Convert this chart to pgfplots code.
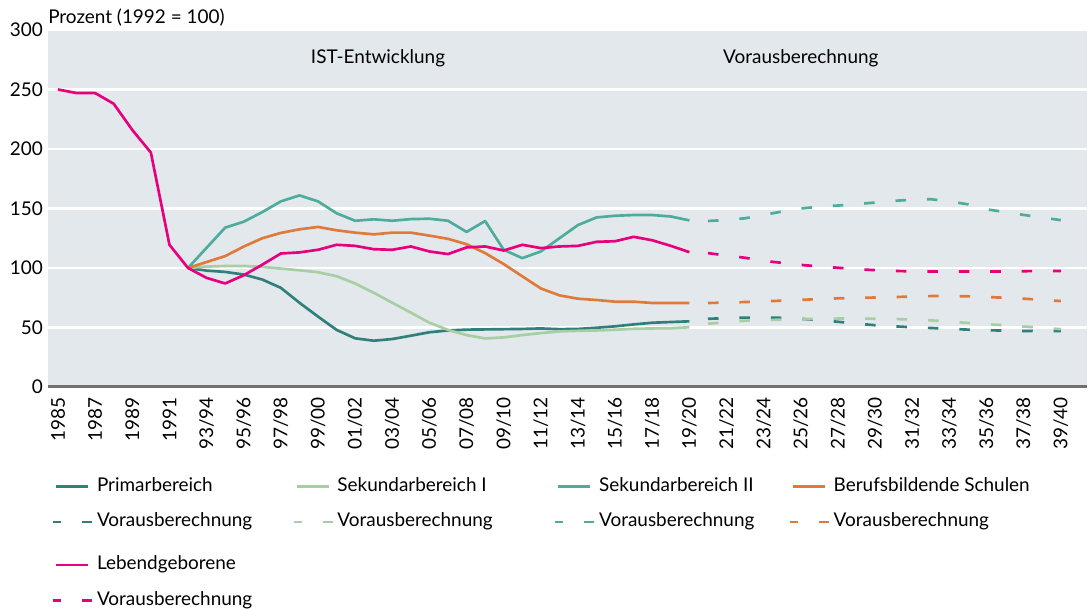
\documentclass[border=0pt]{standalone}
\usepackage{pgfplots}
\pgfplotsset{compat=1.18}
\usepackage{fontspec}
\setmainfont{Lato}
\definecolor{cprim}{RGB}{47,128,122}
\definecolor{csek1}{RGB}{168,206,164}
\definecolor{csek2}{RGB}{77,172,155}
\definecolor{cbbs}{RGB}{224,122,58}
\definecolor{cleb}{RGB}{230,0,126}
\definecolor{cbg}{RGB}{227,232,236}
\definecolor{caxis}{RGB}{112,112,112}
\pgfplotsset{
  solidleg/.style={legend image code/.code={\draw[##1,solid,line width=2pt] (2.25pt,0pt) -- (26.25pt,0pt); \path (0pt,0pt) (29.25pt,0pt);}},
  dashleg/.style={legend image code/.code={\draw[##1,line width=2pt,dash pattern=on 6pt off 15.75pt on 7.5pt off 10pt] (0pt,0pt) -- (29.25pt,0pt);}},
  proj/.style={dash pattern=on 7.9pt off 15.7pt},
}
\newcommand{\LE}[2]{\makebox[#1][l]{\rule[-3pt]{0pt}{13pt}#2}}

\pgfplotstableread{
x prim sek1 sek2 bbs
7 100 100 100 100
8 97.8 101.2 117 105
9 96.7 101.7 133.9 110
10 94.5 101.7 138.9 118
11 90.3 100.9 147 125
12 83.3 99.5 156 129.5
13 70.8 98.1 161 132.5
14 59.2 96.4 156 134.5
15 48 93.1 146 131.7
16 40.9 87 139.7 129.7
17 38.9 79.2 140.9 128.3
18 40.3 70.8 139.7 129.7
19 43.1 62.5 141.1 129.7
20 46 54 141.4 127.2
21 47.5 48 139.7 124.5
22 48.2 43.6 130.3 120
23 48.4 40.8 139.5 112.5
24 48.6 41.7 115.3 103.3
25 48.8 43.6 108.3 93
26 49.2 45.3 113.9 82.8
27 48.6 46.7 125 77
28 48.8 47.2 136.1 74.2
29 49.8 47.5 142.5 73.1
30 51 48.1 143.9 71.7
31 52.6 48.9 144.5 71.7
32 54 49.2 144.5 70.6
33 54.6 49.4 143.3 70.6
34 55.2 50.2 140 70.6
}\istdata

\pgfplotstableread{
x leb
0 250
1 247
2 247
3 238
4 216
5 197
6 119.5
7 100
8 91.7
9 87
10 93.9
11 102.8
12 112.2
13 113.1
14 115.3
15 119.5
16 118.6
17 115.8
18 115.3
19 118.1
20 113.9
21 111.7
22 117.3
23 118.1
24 114.7
25 119.5
26 116.7
27 118.1
28 118.6
29 122
30 122.5
31 126.2
32 123.3
33 118.6
34 113.3
}\lebdata

\pgfplotstableread{
x prim sek1 sek2 bbs leb
35 57.3 53.2 139.5 70.6 112.5
36 57.9 54.5 140.3 70.9 110.5
37 58.3 55.7 141.8 71.4 108.6
38 58.3 56.2 144.6 71.9 106
39 58.1 56.6 147.5 72.6 104.3
40 57.3 57.0 150 73.2 102.6
41 56.2 57.2 151.5 73.9 101.3
42 54.8 57.5 152.5 74.5 100.2
43 53.3 57.5 153.7 74.8 99
44 51.9 57.4 155 75.2 98.2
45 51 57.2 156.4 75.6 97.5
46 50.2 56.6 157.4 76 97.2
47 49.6 56 157.8 76.4 97
48 48.9 55 156 76.4 97
49 48.2 53.8 153.5 76.2 97
50 47.7 52.7 149.3 75.6 97
51 47.4 51.9 147 75 97
52 47.1 50.8 144.6 74.2 97.3
53 47 49.8 142.4 73.3 97.5
54 47 48.6 140.2 72.2 97.5
}\projdata

\begin{document}
\fontsize{14.2pt}{17pt}\selectfont
\begin{tikzpicture}
\useasboundingbox (-36pt,-166.5pt) rectangle (782.25pt,290.25pt);
\begin{axis}[
  at={(0,0)}, anchor=south west,
  scale only axis, width=779.25pt, height=267.75pt,
  xmin=-0.54, xmax=55.41, ymin=0, ymax=300,
  axis line style={draw=none},
  axis background/.style={fill=cbg},
  ytick={0,50,...,300},
  ymajorgrids, grid style={white, line width=1.8pt},
  major tick length=0pt,
  tick style={draw=none},
  xtick={0,2,...,54},
  xticklabels={1985,1987,1989,1991,93/94,95/96,97/98,99/00,01/02,03/04,05/06,07/08,09/10,11/12,13/14,15/16,17/18,19/20,21/22,23/24,25/26,27/28,29/30,31/32,33/34,35/36,37/38,39/40},
  xticklabel style={yshift=-7.5pt, rotate=90, anchor=east, inner sep=0pt},
  yticklabel style={xshift=-3.75pt, anchor=east, inner sep=0pt},
  /pgf/number format/assume math mode=true,
  clip=false,
  legend columns=4,
  legend style={
    at={(0,0)}, anchor=north west, xshift=3pt, yshift=-67.8pt,
    draw=none, fill=none, inner sep=0pt, outer sep=0pt,
    row sep=14pt,
    cells={anchor=mid west},
    nodes={inner sep=0pt},
    /tikz/every odd column/.append style={column sep=2.5pt},
    /tikz/every even column/.append style={column sep=0pt},
  },
  every axis plot/.append style={line width=2pt, line join=round},
]
\addplot[cprim, solidleg] table[x=x, y=prim] {\istdata};
\addlegendentry{\LE{146.6pt}{Primarbereich}}
\addplot[csek1, solidleg] table[x=x, y=sek1] {\istdata};
\addlegendentry{\LE{162.5pt}{Sekundarbereich I}}
\addplot[csek2, solidleg] table[x=x, y=sek2] {\istdata};
\addlegendentry{\LE{142.2pt}{Sekundarbereich II}}
\addplot[cbbs, solidleg] table[x=x, y=bbs] {\istdata};
\addlegendentry{\LE{1pt}{Berufsbildende Schulen}}
\addplot[cprim, proj, dashleg] table[x=x, y=prim] {\projdata};
\addlegendentry{\LE{146.6pt}{Vorausberechnung}}
\addplot[csek1, proj, dashleg] table[x=x, y=sek1] {\projdata};
\addlegendentry{\LE{162.5pt}{Vorausberechnung}}
\addplot[csek2, proj, dashleg] table[x=x, y=sek2] {\projdata};
\addlegendentry{\LE{142.2pt}{Vorausberechnung}}
\addplot[cbbs, proj, dashleg] table[x=x, y=bbs] {\projdata};
\addlegendentry{\LE{1pt}{Vorausberechnung}}
\addplot[cleb, solidleg] table[x=x, y=leb] {\lebdata};
\addlegendentry{\LE{146.6pt}{Lebendgeborene}}
\addlegendimage{empty legend}
\addlegendentry{\makebox[162.5pt][l]{\rule[-3pt]{0pt}{19pt}}}
\addlegendimage{empty legend}
\addlegendentry{}
\addlegendimage{empty legend}
\addlegendentry{}
\addplot[cleb, proj, dashleg] table[x=x, y=leb] {\projdata};
\addlegendentry{\LE{146.6pt}{Vorausberechnung}}
\draw[caxis, line width=2.25pt] (rel axis cs:0,0) -- (rel axis cs:1,0);
\node[anchor=base west, inner sep=0pt, yshift=4.5pt] at (rel axis cs:0,1) {Prozent (1992 = 100)};
\node at (axis cs:17.23,276.4) {IST-Entwicklung};
\node at (axis cs:40,276.4) {Vorausberechnung};
\end{axis}
\end{tikzpicture}
\end{document}
